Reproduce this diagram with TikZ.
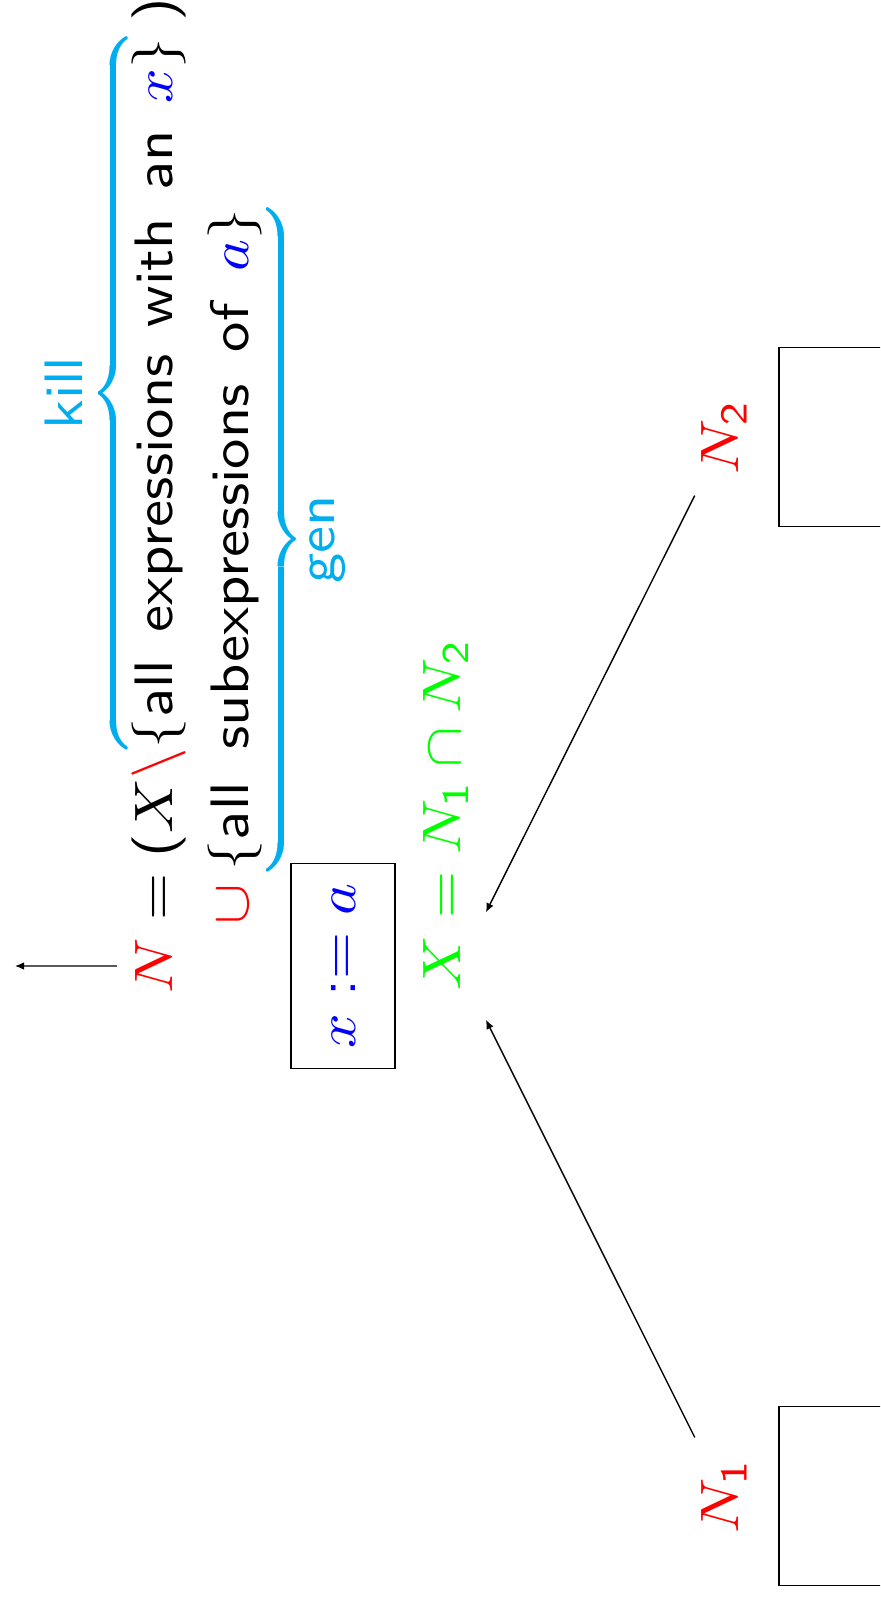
\documentclass[tikz,border=0pt]{standalone}
\usepackage{amsmath}
\usepackage{xcolor}
\usetikzlibrary{arrows.meta, positioning, calc}

% sans digits and operators in math, serif letters
\SetSymbolFont{operators}{normal}{OT1}{cmss}{m}{n}
\SetSymbolFont{operators}{bold}{OT1}{cmss}{bx}{n}

\definecolor{killgen}{RGB}{0,174,239}
\definecolor{eqgreen}{RGB}{0,255,0}

\begin{document}
\begin{tikzpicture}[
        % 10pt type blown up, a little wider than tall; units stay 1cm
        rotate=90, transform shape,
        x=0.5798cm, y=0.6494cm, scale=1.54, xscale=1.12,
        font=\sffamily\fontsize{10}{12}\selectfont,
        block/.style={rectangle, draw, minimum width=1.038cm, minimum height=1.3cm},
        stmt/.style={rectangle, draw, minimum width=1.107cm, minimum height=0.675cm},
        eqline/.style={anchor=base west, inner sep=0pt, font={\sffamily\fontsize{10}{12}\selectfont\spaceskip #1\relax}},
        eqline/.default=0.45em,
        arrow/.style={-{Latex[length=2.6pt, width=2.2pt]}},
        pred/.style={text=red}
    ]
    \useasboundingbox (0,0) rectangle (15.98,8.80);
    \clip (0,0) rectangle (15.98,8.80);

    % Predecessor blocks
    \node (B1) [block, anchor=north] at (1.02,1.02) {};
    \node (B2) [block, anchor=north] at (11.61,1.02) {};
    \node (N1) [pred, above=0.08cm of B1] {$N_1$};
    \node (N2) [pred, above=0.08cm of B2] {$N_2$};

    % Join point
    \node (join) [circle, minimum size=0.7cm, inner sep=0pt] at (6.32,4.21) {};
    \node (joineq) [anchor=base west, text=eqgreen, inner sep=0pt] at (6.06,4.20) {$X = N_1 \cap N_2$};
    \draw[arrow] (N1) -- (join);
    \draw[arrow] (N2) -- (join);

    % Statement
    \node (assign) [stmt, text=blue] at (6.32,5.37) {$x := a$};

    % Transfer function
    \node (nout) [pred, anchor=base] at (6.32,7.07) {$N$};
    \coordinate (exit) at (6.32,8.65);
    \draw[arrow] (nout) -- (exit);
    \node (killeq) [eqline] at (6.59,7.07)
        {${}= (X {\color{red}\setminus} {\color{killgen}\overbrace{\color{black}\{\text{all expressions with an } {\color{blue}x}\}}^{\mbox{kill}}}\;)$};
    \node (geneq) [eqline=0.53em] at ($(killeq.base west)+(0,-0.75)$)
        {${}\mathbin{\color{red}\cup} {\color{killgen}\underbrace{\color{black}\{\text{all subexpressions of } {\color{blue}a}\}}_{\mbox{gen}}}$};

\end{tikzpicture}
\end{document}
